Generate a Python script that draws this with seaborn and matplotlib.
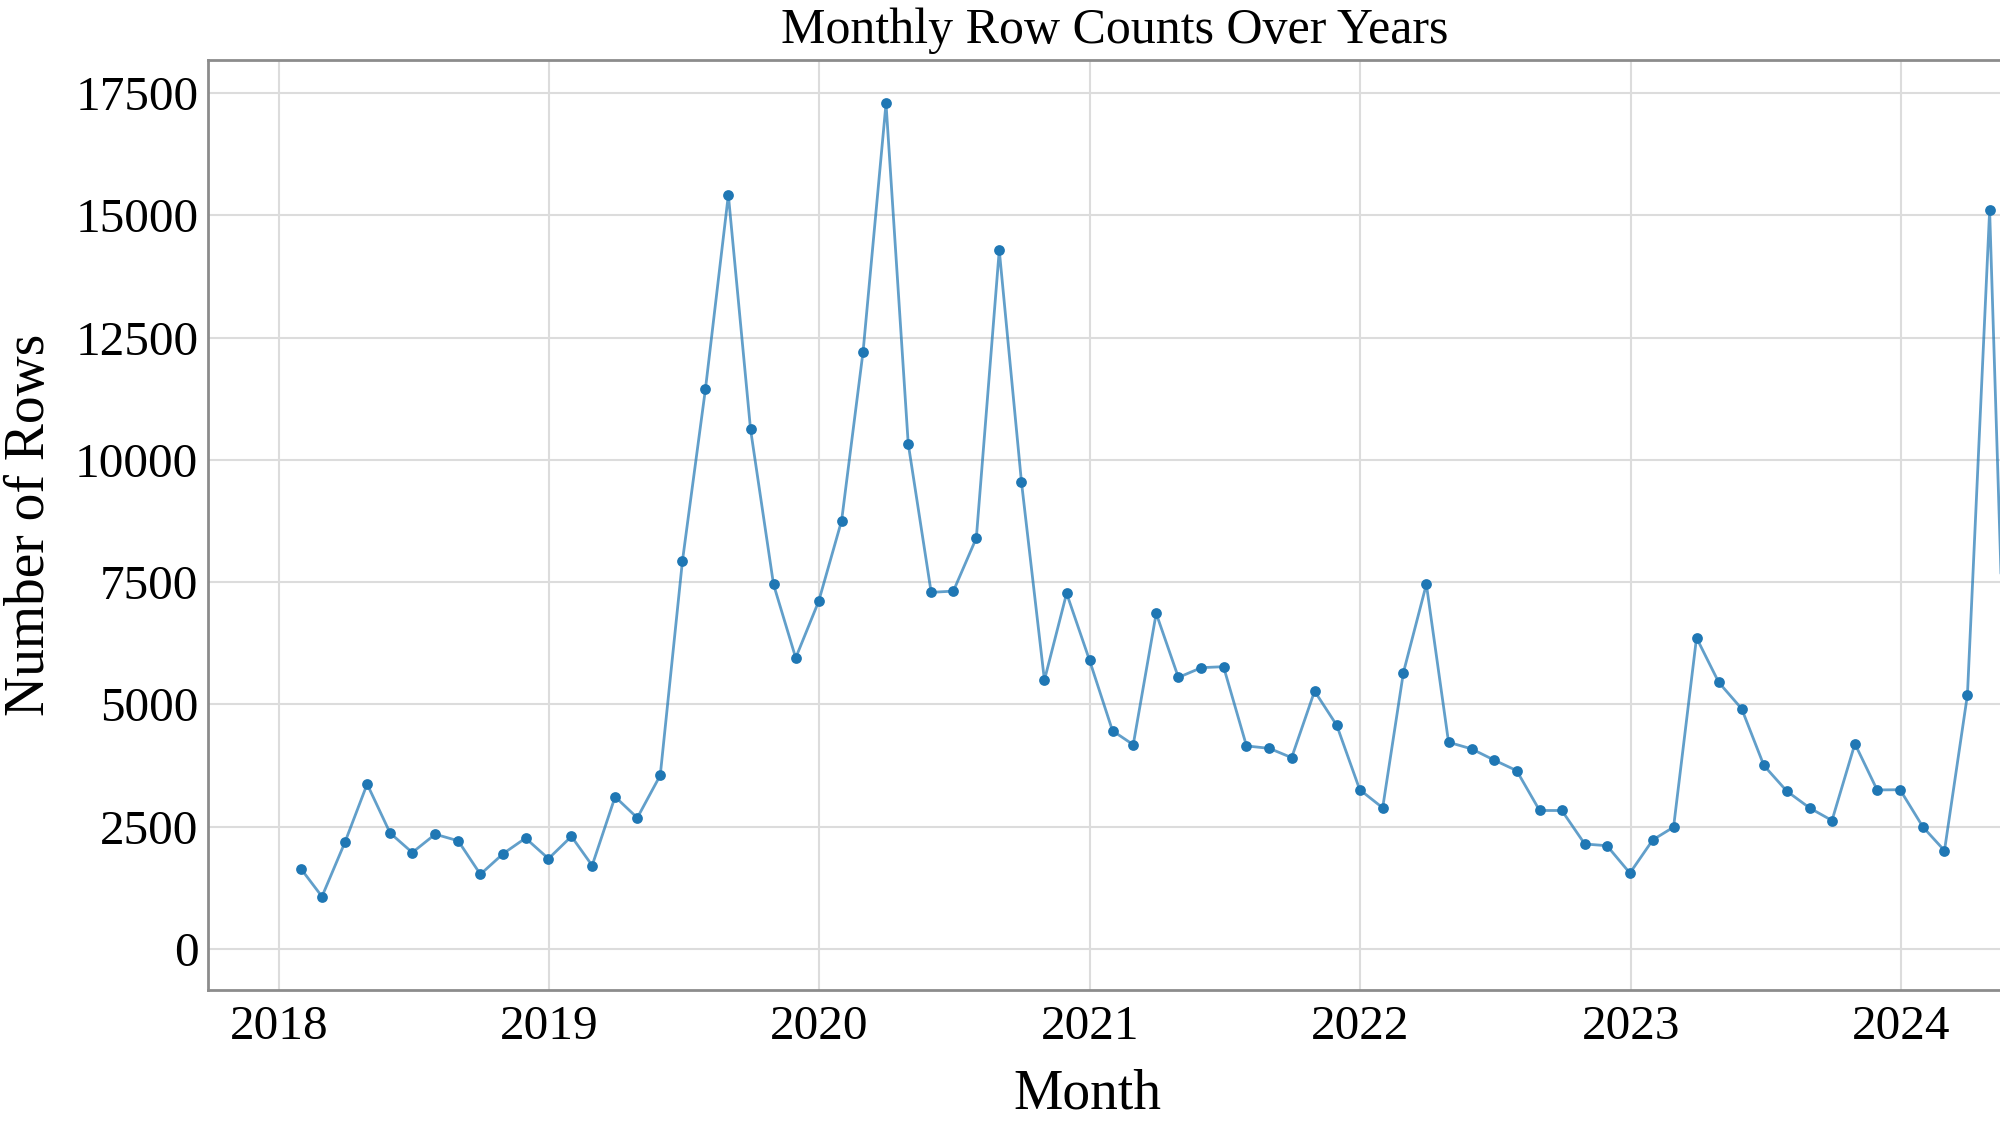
import pandas as pd
import matplotlib.pyplot as plt
import matplotlib.dates as mdates
import seaborn as sns

# Month-end dates, Jan 2018 .. May 2024
months = pd.date_range('2018-01-31', '2024-05-31', freq='ME')

# Row counts per month
rows_2018 = [1630, 1070, 2180, 3370, 2370, 1970, 2345, 2210, 1525, 1950, 2265, 1845]
rows_2019 = [2300, 1705, 3110, 2680, 3550, 7935, 11440, 15415, 10620, 7455, 5950, 7105]
rows_2020 = [8755, 12210, 17285, 10330, 7290, 7315, 8400, 14285, 9545, 5495, 7270, 5900]
rows_2021 = [4460, 4175, 6860, 5550, 5750, 5770, 4150, 4100, 3910, 5270, 4570, 3255]
rows_2022 = [2885, 5650, 7455, 4225, 4090, 3865, 3645, 2830, 2830, 2145, 2110, 1550]
rows_2023 = [2230, 2490, 6360, 5450, 4910, 3750, 3225, 2880, 2625, 4195, 3250, 3255]
rows_2024 = [2490, 2010, 5195, 15100, 100]

counts = rows_2018 + rows_2019 + rows_2020 + rows_2021 + rows_2022 + rows_2023 + rows_2024
df = pd.DataFrame({'Month': months, 'Rows': counts})

sns.set_theme(style='whitegrid')
plt.rcParams['font.family'] = ['Liberation Serif', 'DejaVu Serif']
plt.rcParams['text.color'] = 'black'
plt.rcParams['axes.labelcolor'] = 'black'

fig = plt.figure(figsize=(20, 11.26), dpi=100)
ax = fig.add_axes([0.104, 0.121, 0.896, 0.826])

blue = '#1f77b4'
sns.lineplot(data=df, x='Month', y='Rows', ax=ax, color=blue, alpha=0.7, linewidth=2)
sns.scatterplot(data=df, x='Month', y='Rows', ax=ax, color=blue, s=60, edgecolor=blue,
                linewidth=0, zorder=3)

ax.set_xlim(pd.Timestamp('2017-09-27'), pd.Timestamp('2024-05-14'))
ax.set_ylim(-835, 18180)
ax.xaxis.set_major_locator(mdates.YearLocator())
ax.xaxis.set_major_formatter(mdates.DateFormatter('%Y'))
ax.set_yticks(range(0, 17501, 2500))

ax.grid(color='#dcdcdc', linewidth=1.5)
for side in ['left', 'bottom', 'top']:
    ax.spines[side].set_color('#8c8c8c')
    ax.spines[side].set_linewidth(2)
ax.spines['right'].set_visible(False)
ax.tick_params(axis='both', labelsize=35.5, length=5, width=1.2, color='#8c8c8c',
               labelcolor='black', pad=6)
ax.tick_params(axis='y', pad=2)

ax.set_title('Monthly Row Counts Over Years', fontsize=36, pad=12, x=0.506)
ax.set_xlabel('Month', fontsize=40, labelpad=10)
ax.xaxis.set_label_coords(0.491, -0.085)
ax.set_ylabel('Number of Rows', fontsize=40, labelpad=14)

fig.savefig('out.png', dpi=100)
